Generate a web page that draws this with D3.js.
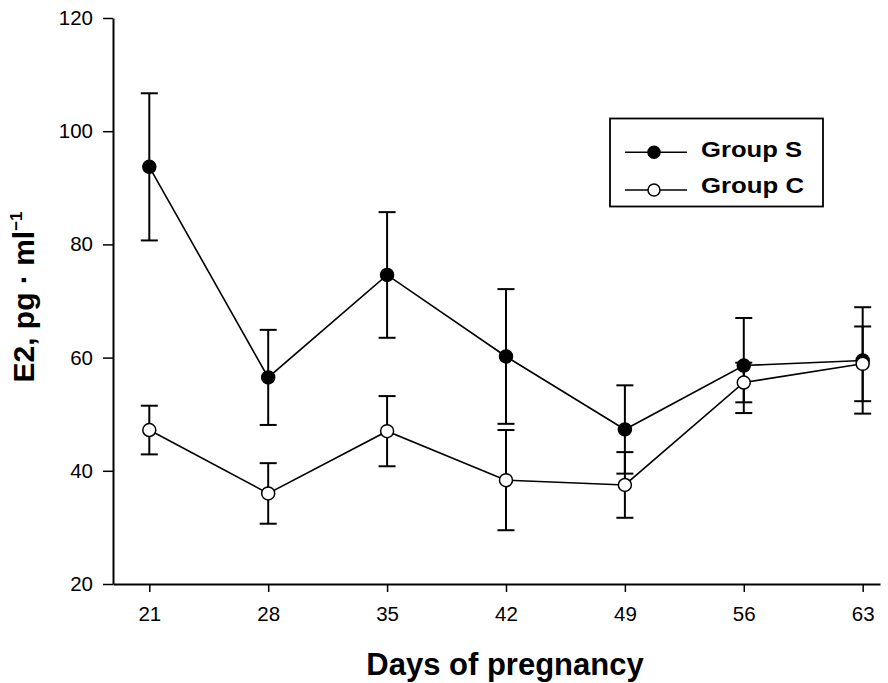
<!doctype html>
<html lang="en">
<head>
    <meta charset="utf-8">
    <title>E2 during pregnancy</title>
    <script src="https://cdn.jsdelivr.net/npm/d3@7/dist/d3.min.js"></script>
    <style>
        body { margin: 0; background: #fff; }
        svg text { font-family: "Liberation Sans", Arial, sans-serif; fill: #000; }
    </style>
</head>
<body>
<svg id="chart" width="888" height="683"></svg>
<script>
    // values
    var days = [21, 28, 35, 42, 49, 56, 63];
    var groupS = [93.7, 56.5, 74.6, 60.2, 47.3, 58.6, 59.5];
    var groupSErr = [13.0, 8.4, 11.1, 11.9, 7.8, 8.4, 9.4];
    var groupC = [47.2, 36.0, 47.0, 38.35, 37.5, 55.6, 58.9];
    var groupCErr = [4.3, 5.35, 6.2, 8.85, 5.8, 3.5, 6.6];
    var yTicks = [20, 40, 60, 80, 100, 120];
    var seriesNames = ["Group S", "Group C"];

    var svg = d3.select("#chart");
    var plotLeft = 113, plotRight = 880, plotTop = 18, plotBottom = 584;

    var x = d3.scaleLinear().domain([18.863, 64.02]).range([plotLeft, plotRight]);
    var y = d3.scaleLinear().domain([20, 120]).range([plotBottom, plotTop]);

    // axes
    var yAxis = svg.append("g")
        .attr("transform", "translate(" + plotLeft + ",0)")
        .call(d3.axisLeft(y).tickValues(yTicks).tickSizeInner(10).tickSizeOuter(0)
            .tickPadding(10).tickFormat(d3.format("d")));
    var xAxis = svg.append("g")
        .attr("transform", "translate(0," + plotBottom + ")")
        .call(d3.axisBottom(x).tickValues(days).tickSizeInner(8).tickSizeOuter(0)
            .tickPadding(14).tickFormat(d3.format("d")));

    [xAxis, yAxis].forEach(function (g) {
        g.select(".domain").attr("stroke", "#000").attr("stroke-width", 2);
        g.selectAll(".tick line").attr("stroke", "#000").attr("stroke-width", 1.5);
        g.selectAll(".tick text").style("font-size", "20.5px").attr("fill", "#000");
    });

    var series = [
        { name: seriesNames[0], vals: groupS, errs: groupSErr, fill: "#000" },
        { name: seriesNames[1], vals: groupC, errs: groupCErr, fill: "#fff" }
    ];

    var line = d3.line()
        .x(function (d) { return x(d.day); })
        .y(function (d) { return y(d.v); });

    series.forEach(function (s) {
        var pts = days.map(function (d, i) {
            return { day: d, v: s.vals[i], e: s.errs[i] };
        });
        var g = svg.append("g");

        g.append("path")
            .datum(pts)
            .attr("d", line)
            .attr("fill", "none")
            .attr("stroke", "#000")
            .attr("stroke-width", 1.6);

        var eb = g.selectAll(".err").data(pts).enter().append("g");
        eb.append("line")
            .attr("x1", function (d) { return x(d.day); })
            .attr("x2", function (d) { return x(d.day); })
            .attr("y1", function (d) { return y(d.v + d.e); })
            .attr("y2", function (d) { return y(d.v - d.e); })
            .attr("stroke", "#000").attr("stroke-width", 2);
        [1, -1].forEach(function (sign) {
            eb.append("line")
                .attr("x1", function (d) { return x(d.day) - 8.5; })
                .attr("x2", function (d) { return x(d.day) + 8.5; })
                .attr("y1", function (d) { return y(d.v + sign * d.e); })
                .attr("y2", function (d) { return y(d.v + sign * d.e); })
                .attr("stroke", "#000").attr("stroke-width", 2);
        });

        g.selectAll("circle").data(pts).enter().append("circle")
            .attr("cx", function (d) { return x(d.day); })
            .attr("cy", function (d) { return y(d.v); })
            .attr("r", 6.5)
            .attr("fill", s.fill)
            .attr("stroke", "#000")
            .attr("stroke-width", 1.5);
    });

    // legend
    var lg = svg.append("g");
    lg.append("rect")
        .attr("x", 610).attr("y", 118.5)
        .attr("width", 213).attr("height", 88)
        .attr("fill", "#fff").attr("stroke", "#000").attr("stroke-width", 1.8);
    series.forEach(function (s, i) {
        var ly = 152.3 + i * 37.7;
        lg.append("line")
            .attr("x1", 625).attr("x2", 687)
            .attr("y1", ly).attr("y2", ly)
            .attr("stroke", "#000").attr("stroke-width", 1.6);
        lg.append("circle")
            .attr("cx", 654).attr("cy", ly).attr("r", 6)
            .attr("fill", s.fill).attr("stroke", "#000").attr("stroke-width", 1.5);
        lg.append("text")
            .attr("x", 701).attr("y", 157.3 + i * 36)
            .attr("textLength", i === 0 ? 101 : 103)
            .attr("lengthAdjust", "spacingAndGlyphs")
            .style("font-size", "22px").style("font-weight", "bold")
            .text(s.name);
    });

    // axis titles
    svg.append("text")
        .attr("x", 505).attr("y", 675)
        .attr("text-anchor", "middle")
        .style("font-size", "31px").style("font-weight", "bold")
        .text("Days of pregnancy");

    var yt = svg.append("text")
        .attr("transform", "translate(34,297) rotate(-90)")
        .attr("text-anchor", "middle")
        .style("font-size", "30px").style("font-weight", "bold");
    yt.append("tspan").text("E2, pg \u00b7 ml");
    yt.append("tspan").attr("dy", -12).style("font-size", "17px").text("\u22121");
</script>
</body>
</html>
